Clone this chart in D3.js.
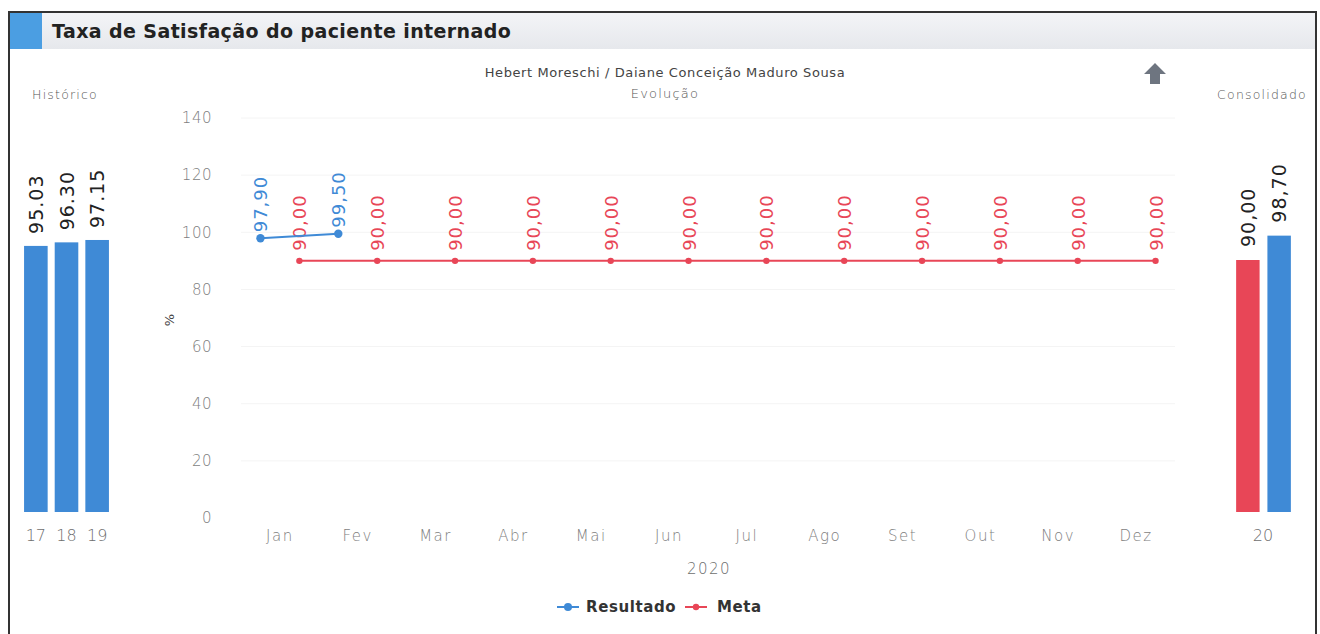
<!DOCTYPE html>
<html>
<head>
<meta charset="utf-8">
<script src="https://cdn.jsdelivr.net/npm/d3@7"></script>
<style>
  body { margin: 0; background: #fff; }
  svg { display: block; font-family: "DejaVu Sans", Verdana, sans-serif; }
  .tick text { fill: #7e7e7e; font-weight: 200; }
</style>
</head>
<body>
<div id="svg-container"></div>
<script>
// ---------------- data ----------------
const months = ["Jan", "Fev", "Mar", "Abr", "Mai", "Jun", "Jul", "Ago", "Set", "Out", "Nov", "Dez"];
const resultado = [97.90, 99.50];
const meta = [90, 90, 90, 90, 90, 90, 90, 90, 90, 90, 90, 90];
const yTicks = [0, 20, 40, 60, 80, 100, 120, 140];

const histYears = ["17", "18", "19"];
const histValues = [95.03, 96.30, 97.15];

const consYear = "20";
const consSeries = ["Meta", "Resultado"];
const consValues = [90.00, 98.70];

const blue = "#3f8ad6";
const red = "#e84657";

const width = 1320, height = 634;
const svg = d3.select("#svg-container").append("svg")
  .attr("width", width).attr("height", height);

const fmtBR = (v) => d3.format(".2f")(v).replace(".", ",");

// ---------------- frame + header ----------------
const grad = svg.append("defs").append("linearGradient")
  .attr("id", "hdr").attr("x1", 0).attr("x2", 0).attr("y1", 0).attr("y2", 1);
grad.append("stop").attr("offset", "0%").attr("stop-color", "#f3f4f7");
grad.append("stop").attr("offset", "100%").attr("stop-color", "#e6e8ec");

svg.append("rect").attr("x", 10).attr("y", 13).attr("width", 1305).attr("height", 36)
  .attr("fill", "url(#hdr)");
svg.append("rect").attr("x", 10).attr("y", 13).attr("width", 32).attr("height", 36)
  .attr("fill", "#4b9ee2");
svg.append("text").attr("x", 52).attr("y", 38)
  .attr("font-size", 19).attr("letter-spacing", 0.4).attr("font-weight", "bold").attr("fill", "#222")
  .text("Taxa de Satisfação do paciente internado");

svg.append("rect").attr("x", 9).attr("y", 12).attr("width", 1307).attr("height", 650)
  .attr("fill", "none").attr("stroke", "#333").attr("stroke-width", 2);

// ---------------- titles ----------------
svg.append("text").attr("x", 665).attr("y", 77).attr("text-anchor", "middle")
  .attr("font-size", 13).attr("letter-spacing", 0.6).attr("fill", "#444")
  .text("Hebert Moreschi / Daiane Conceição Maduro Sousa");
svg.append("text").attr("x", 665).attr("y", 98).attr("text-anchor", "middle")
  .attr("font-size", 13).attr("letter-spacing", 1.2).attr("font-weight", 200).attr("fill", "#555")
  .text("Evolução");
svg.append("text").attr("x", 65).attr("y", 99).attr("text-anchor", "middle")
  .attr("font-size", 12.5).attr("letter-spacing", 1.2).attr("font-weight", 200).attr("fill", "#555")
  .text("Histórico");
svg.append("text").attr("x", 1262).attr("y", 99).attr("text-anchor", "middle")
  .attr("font-size", 12.5).attr("letter-spacing", 1.2).attr("font-weight", 200).attr("fill", "#555")
  .text("Consolidado");

// arrow icon
svg.append("path")
  .attr("d", "M1155,63 L1166,74 L1160,74 L1160,84 L1150,84 L1150,74 L1144,74 Z")
  .attr("fill", "#6e7580");

// ---------------- main chart ----------------
const x = d3.scaleBand().domain(months).range([241, 1175]);
const y = d3.scaleLinear().domain([0, 140]).range([518, 118]);
const bw = x.bandwidth();
const xRes = (i) => x(months[i]) + bw * 0.25;
const xMeta = (i) => x(months[i]) + bw * 0.75;

// grid
svg.append("g").selectAll("line").data(yTicks.slice(1)).join("line")
  .attr("x1", 241).attr("x2", 1175)
  .attr("y1", (d) => y(d)).attr("y2", (d) => y(d))
  .attr("stroke", "#f4f4f4");

const yAxis = svg.append("g").attr("transform", "translate(214,0)")
  .call(d3.axisLeft(y).tickValues(yTicks).tickSize(0).tickPadding(2))
  .attr("font-family", null);
yAxis.select(".domain").remove();
yAxis.selectAll("text").attr("font-size", 15).attr("letter-spacing", 0.5);

const xAxis = svg.append("g").attr("transform", "translate(0,518)")
  .call(d3.axisBottom(x).tickSize(0).tickPadding(12))
  .attr("font-family", null);
xAxis.select(".domain").remove();
xAxis.selectAll("text").attr("font-size", 15).attr("letter-spacing", 1.5);

svg.append("text").attr("x", 709).attr("y", 574).attr("text-anchor", "middle")
  .attr("font-size", 15).attr("letter-spacing", 1.5).attr("font-weight", 200).attr("fill", "#6e6e6e").text("2020");

svg.append("text").attr("transform", "translate(174,320) rotate(-90)")
  .attr("text-anchor", "middle").attr("font-size", 13).attr("fill", "#444").text("%");

// meta line
const lineMeta = d3.line().x((d, i) => xMeta(i)).y((d) => y(d));
svg.append("path").datum(meta).attr("fill", "none").attr("stroke", red)
  .attr("stroke-width", 2).attr("d", lineMeta);
svg.append("g").selectAll("circle").data(meta).join("circle")
  .attr("cx", (d, i) => xMeta(i)).attr("cy", (d) => y(d)).attr("r", 3.2).attr("fill", red);
svg.append("g").selectAll("text").data(meta).join("text")
  .attr("transform", (d, i) => `translate(${xMeta(i) + 7},${y(d) - 10}) rotate(-90)`)
  .attr("font-size", 18).attr("letter-spacing", 1).attr("fill", red).text((d) => fmtBR(d));

// resultado line
const lineRes = d3.line().x((d, i) => xRes(i)).y((d) => y(d));
svg.append("path").datum(resultado).attr("fill", "none").attr("stroke", blue)
  .attr("stroke-width", 2).attr("d", lineRes);
svg.append("g").selectAll("circle").data(resultado).join("circle")
  .attr("cx", (d, i) => xRes(i)).attr("cy", (d) => y(d)).attr("r", 4.2).attr("fill", blue);
svg.append("g").selectAll("text").data(resultado).join("text")
  .attr("transform", (d, i) => `translate(${xRes(i) + 7},${y(d) - 6}) rotate(-90)`)
  .attr("font-size", 18).attr("letter-spacing", 1).attr("fill", blue).text((d) => fmtBR(d));

// legend
const legend = svg.append("g").attr("transform", "translate(0,607)");
[["Resultado", blue, 557, 586, 4], ["Meta", red, 685, 717, 3.2]].forEach(([name, c, lx, tx, r]) => {
  legend.append("line").attr("x1", lx).attr("x2", lx + 22).attr("stroke", c).attr("stroke-width", 2);
  legend.append("circle").attr("cx", lx + 11).attr("r", r).attr("fill", c);
  legend.append("text").attr("x", tx).attr("y", 5).attr("font-size", 15)
    .attr("letter-spacing", 0.6).attr("font-weight", "bold").attr("fill", "#333").text(name);
});

// ---------------- side bars ----------------
const ySide = d3.scaleLinear().domain([0, 100]).range([512, 232]);

const xHist = d3.scaleBand().domain(histYears).range([21, 112]).paddingInner(0.23).paddingOuter(0.1);
svg.append("g").selectAll("rect").data(histValues).join("rect")
  .attr("x", (d, i) => xHist(histYears[i])).attr("width", xHist.bandwidth())
  .attr("y", (d) => ySide(d)).attr("height", (d) => ySide(0) - ySide(d))
  .attr("fill", blue);
svg.append("g").selectAll("text").data(histValues).join("text")
  .attr("transform", (d, i) => `translate(${xHist(histYears[i]) + xHist.bandwidth() / 2 + 7},${ySide(d) - 12}) rotate(-90)`)
  .attr("font-size", 19).attr("letter-spacing", 1).attr("fill", "#222").text((d) => d3.format(".2f")(d));
svg.append("g").selectAll("text").data(histYears).join("text")
  .attr("x", (d) => xHist(d) + xHist.bandwidth() / 2).attr("y", 541)
  .attr("text-anchor", "middle").attr("font-size", 16).attr("font-weight", 200)
  .attr("fill", "#6e6e6e").text((d) => d);

const xCons = d3.scaleBand().domain(consSeries).range([1233, 1294]).paddingInner(0.25).paddingOuter(0.1);
const consColors = [red, blue];
svg.append("g").selectAll("rect").data(consValues).join("rect")
  .attr("x", (d, i) => xCons(consSeries[i])).attr("width", xCons.bandwidth())
  .attr("y", (d) => ySide(d)).attr("height", (d) => ySide(0) - ySide(d))
  .attr("fill", (d, i) => consColors[i]);
svg.append("g").selectAll("text").data(consValues).join("text")
  .attr("transform", (d, i) => `translate(${xCons(consSeries[i]) + xCons.bandwidth() / 2 + 7},${ySide(d) - 13}) rotate(-90)`)
  .attr("font-size", 19).attr("letter-spacing", 1).attr("fill", "#222").text((d) => fmtBR(d));
svg.append("text").attr("x", 1263).attr("y", 541).attr("text-anchor", "middle")
  .attr("font-size", 16).attr("font-weight", 200).attr("fill", "#6e6e6e").text(consYear);
</script>
</body>
</html>
